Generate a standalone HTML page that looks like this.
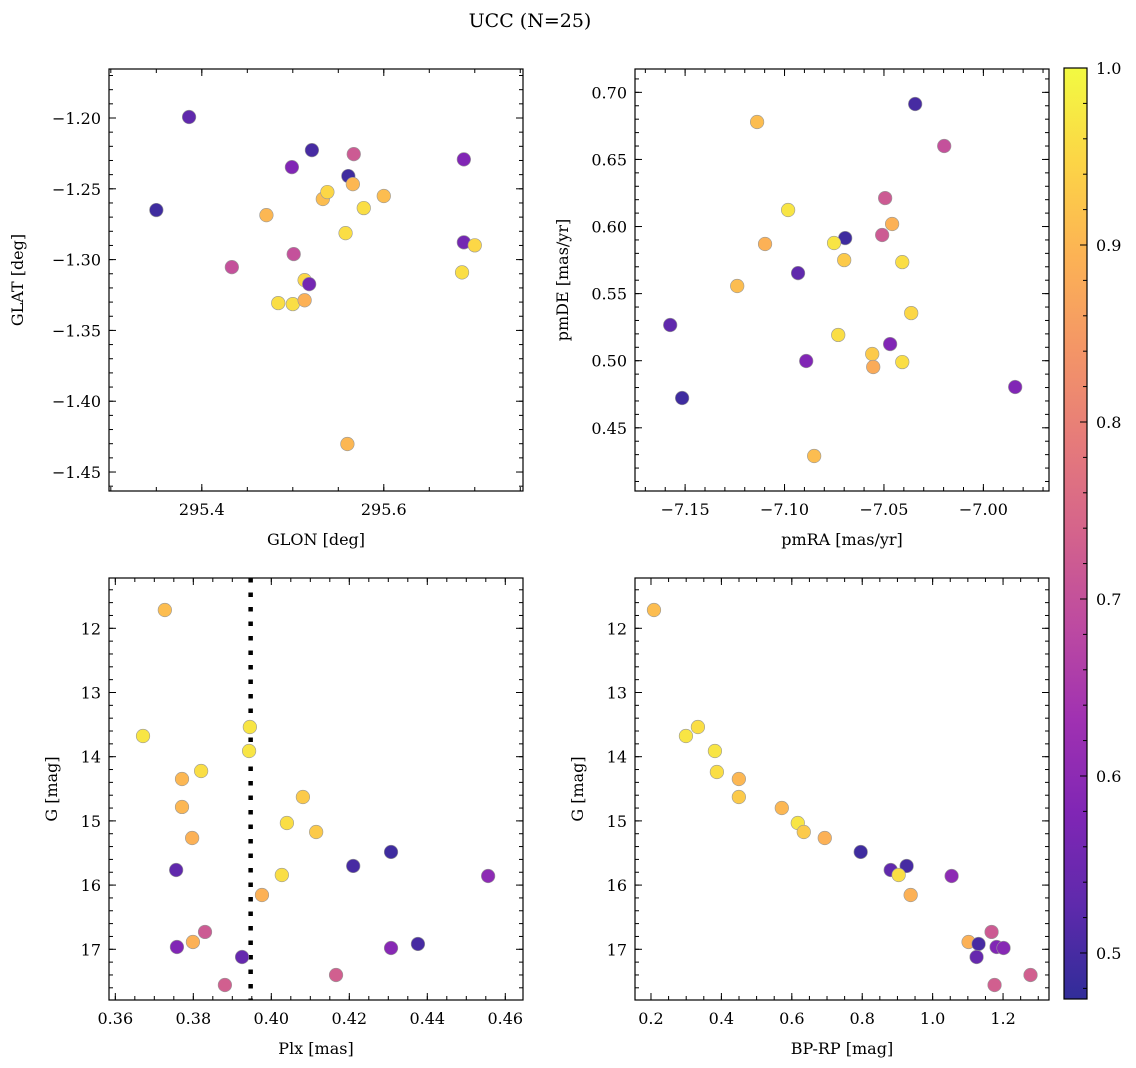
<!DOCTYPE html>
<html><head><meta charset="utf-8">
<style>
html,body{margin:0;padding:0;background:#fff;}
svg{display:block;font-family:"DejaVu Serif","Liberation Serif",serif;}
</style></head>
<body>
<svg id="fig" width="1136" height="1068" viewBox="0 0 1136 1068" xmlns="http://www.w3.org/2000/svg">
<text x="530" y="27" font-size="19" text-anchor="middle">UCC (N=25)</text>
</svg>
<script>
// ---- data ----
const tlGlon = [295.386,295.350,295.433,295.471,295.499,295.521,295.501,295.484,295.500,295.513,295.518,295.513,295.533,295.538,295.561,295.567,295.566,295.558,295.578,295.600,295.560,295.688,295.688,295.700,295.686];
const tlGlat = [-1.1993,-1.2650,-1.3053,-1.2686,-1.2347,-1.2227,-1.2961,-1.3307,-1.3314,-1.3145,-1.3173,-1.3287,-1.2572,-1.2523,-1.2410,-1.2255,-1.2467,-1.2813,-1.2636,-1.2551,-1.4302,-1.2292,-1.2878,-1.2899,-1.3090];
const tlProb = [0.53,0.49,0.70,0.90,0.58,0.50,0.70,0.96,0.96,0.95,0.56,0.89,0.91,0.95,0.49,0.72,0.90,0.96,0.96,0.91,0.90,0.58,0.56,0.95,0.96];

const trPmra = [-7.0343,-7.0197,-7.1138,-7.0494,-7.0459,-7.0509,-7.0982,-7.1098,-7.0695,-7.0751,-7.0700,-7.0408,-7.0932,-7.1238,-7.0363,-7.1575,-7.1515,-7.0891,-7.0730,-7.0469,-7.0559,-7.0554,-7.0408,-6.9840,-7.0851];
const trPmde = [0.6913,0.6600,0.6779,0.6212,0.6019,0.5937,0.6123,0.5870,0.5914,0.5877,0.5750,0.5735,0.5653,0.5557,0.5355,0.5266,0.4722,0.4998,0.5192,0.5124,0.5050,0.4953,0.4990,0.4804,0.4290];
const trProb = [0.50,0.70,0.91,0.72,0.89,0.72,0.97,0.89,0.49,0.97,0.93,0.96,0.53,0.91,0.95,0.53,0.49,0.58,0.96,0.58,0.93,0.88,0.96,0.58,0.91];

const blPlx = [0.3727,0.3671,0.3945,0.3943,0.3771,0.3820,0.3771,0.3797,0.4081,0.4040,0.4115,0.3756,0.4027,0.3976,0.4210,0.4307,0.4556,0.3830,0.3799,0.3758,0.3925,0.3881,0.4166,0.4307,0.4376];
const blG = [11.715,13.678,13.537,13.911,14.347,14.223,14.783,15.266,14.628,15.033,15.173,15.765,15.843,16.154,15.702,15.484,15.858,16.730,16.886,16.964,17.120,17.556,17.400,16.980,16.917];
const blProb = [0.91,0.97,0.97,0.97,0.90,0.96,0.90,0.89,0.93,0.96,0.93,0.53,0.96,0.89,0.50,0.49,0.60,0.72,0.89,0.58,0.54,0.73,0.73,0.59,0.50];

const brBprp = [0.2085,0.2993,0.3333,0.3816,0.3872,0.4496,0.4496,0.5716,0.6170,0.6340,0.6936,0.7957,0.8809,0.9262,0.9035,1.0539,0.9376,1.1674,1.1021,1.1305,1.1816,1.2014,1.1248,1.1759,1.2780];
const brG = [11.715,13.678,13.537,13.911,14.238,14.347,14.628,14.799,15.033,15.173,15.266,15.484,15.765,15.702,15.843,15.858,16.154,16.730,16.886,16.917,16.964,16.980,17.120,17.556,17.400];
const brProb = [0.91,0.97,0.96,0.97,0.96,0.90,0.93,0.90,0.97,0.93,0.89,0.49,0.53,0.50,0.96,0.60,0.89,0.72,0.89,0.50,0.58,0.59,0.54,0.73,0.73];

const plxLine = 0.3947;
const probMin = 0.474, probMax = 1.0;
const cbTicks = [0.5,0.6,0.7,0.8,0.9,1.0];

// ---- helpers ----
const NS = "http://www.w3.org/2000/svg";
const svg = document.getElementById('fig');
function mk(tag, attrs, parent){ const e=document.createElementNS(NS,tag); for(const k in attrs) e.setAttribute(k,attrs[k]); (parent||svg).appendChild(e); return e; }
const stops=[[13,8,135],[65,4,157],[106,0,168],[143,13,164],[177,42,144],[204,71,120],[225,100,98],[242,132,75],[252,166,54],[252,206,37],[240,249,33]];
function plasma(t){ t=Math.max(0,Math.min(1,t)); const f=t*10, i=Math.min(9,Math.floor(f)), r=f-i; const a=stops[i], b=stops[i+1]; return a.map((v,k)=>v+(b[k]-v)*r); }
function colorOf(p, alpha){ const c=plasma((p-probMin)/(probMax-probMin)); const al=alpha; return 'rgb('+c.map(v=>Math.round(v*al+255*(1-al))).join(',')+')'; }
function fmt(v,d){ let s=v.toFixed(d); if(v<0) s='\u2212'+s.slice(1); return s; }

function panel(o){
  const {name,x0,y0,w,h,xmin,xmax,ymin,ymax,invY,xMaj,xMin,yMaj,yMin,xd,yd,xlabel,ylabel,ylabX,xs,ys,ps} = o;
  const sx=v=>x0+(v-xmin)/(xmax-xmin)*w;
  const sy=v=>invY? y0+(v-ymin)/(ymax-ymin)*h : y0+h-(v-ymin)/(ymax-ymin)*h;
  const g=mk('g',{});  
  const eps=1e-9;
  function ticks(step,len,isMaj,axis){
    const lo=axis==='x'?xmin:ymin, hi=axis==='x'?xmax:ymax;
    for(let k=Math.ceil(lo/step-eps);k*step<=hi+eps;k++){
      const v=k*step;
      if(axis==='x'){ const X=sx(v);
        mk('line',{x1:X,x2:X,y1:y0+h,y2:y0+h-len,stroke:'#000','stroke-width':1},g);
        mk('line',{x1:X,x2:X,y1:y0,y2:y0+len,stroke:'#000','stroke-width':1},g);
        if(isMaj){ const t=mk('text',{x:X,y:y0+h+24,'font-size':16,'text-anchor':'middle'},g); t.textContent=fmt(v,xd);   }
      } else { const Y=sy(v);
        mk('line',{x1:x0,x2:x0+len,y1:Y,y2:Y,stroke:'#000','stroke-width':1},g);
        mk('line',{x1:x0+w,x2:x0+w-len,y1:Y,y2:Y,stroke:'#000','stroke-width':1},g);
        if(isMaj){ const t=mk('text',{x:x0-8,y:Y+6,'font-size':16,'text-anchor':'end'},g); t.textContent=fmt(v,yd);   }
      }
    }
  }
  ticks(xMin,4,false,'x'); ticks(xMaj,7,true,'x'); ticks(yMin,4,false,'y'); ticks(yMaj,7,true,'y');
  if(o.vline!==undefined){ const l=mk('line',{x1:sx(o.vline),x2:sx(o.vline),y1:y0,y2:y0+h,stroke:'#000','stroke-width':4.5,'stroke-dasharray':'4.5 10'},g);   }
  for(let i=0;i<xs.length;i++){
    const c=mk('circle',{cx:sx(xs[i]),cy:sy(ys[i]),r:6.8,fill:colorOf(ps[i],0.85),stroke:'#999','stroke-width':0.6},g);
    
    
  }
  mk('rect',{x:x0,y:y0,width:w,height:h,fill:'none',stroke:'#000','stroke-width':1.2},g);
  const xl=mk('text',{x:x0+w/2,y:y0+h+54,'font-size':16,'text-anchor':'middle'},g); xl.textContent=xlabel;
   
  const yl=mk('text',{x:ylabX,y:y0+h/2,'font-size':16,'text-anchor':'middle',transform:'rotate(-90 '+ylabX+' '+(y0+h/2)+')'},g); yl.textContent=ylabel;
   
}

panel({name:'glon-glat',x0:109,y0:69,w:414,h:422,xmin:295.298,xmax:295.753,ymin:-1.4634,ymax:-1.1654,xMaj:0.2,xMin:0.05,yMaj:0.05,yMin:0.01,xd:1,yd:2,xlabel:'GLON [deg]',ylabel:'GLAT [deg]',ylabX:23,xs:tlGlon,ys:tlGlat,ps:tlProb});
panel({name:'pm',x0:635,y0:69,w:414,h:422,xmin:-7.1752,xmax:-6.967,ymin:0.4029,ymax:0.7174,xMaj:0.05,xMin:0.01,yMaj:0.05,yMin:0.01,xd:2,yd:2,xlabel:'pmRA [mas/yr]',ylabel:'pmDE [mas/yr]',ylabX:568,xs:trPmra,ys:trPmde,ps:trProb});
panel({name:'plx-g',x0:109,y0:578,w:414,h:422,xmin:0.35838,xmax:0.46454,ymin:11.2165,ymax:17.79,invY:true,xMaj:0.02,xMin:0.005,yMaj:1,yMin:0.2,xd:2,yd:0,xlabel:'Plx [mas]',ylabel:'G [mag]',ylabX:57,xs:blPlx,ys:blG,ps:blProb,vline:plxLine});
panel({name:'cmd',x0:635,y0:578,w:414,h:422,xmin:0.1546,xmax:1.3305,ymin:11.2165,ymax:17.79,invY:true,xMaj:0.2,xMin:0.05,yMaj:1,yMin:0.2,xd:1,yd:0,xlabel:'BP-RP [mag]',ylabel:'G [mag]',ylabX:583,xs:brBprp,ys:brG,ps:brProb});

// colorbar
(function(){
  const cx=1064,cy=68,cw=23,ch=931;
  const g=mk('g',{});  
  const grad=mk('linearGradient',{id:'cbg',x1:0,y1:1,x2:0,y2:0},mk('defs',{},g));
  for(let i=0;i<=20;i++){ const t=i/20; mk('stop',{offset:t,'stop-color':colorOf(probMin+t*(probMax-probMin),0.85)},grad); }
  mk('rect',{x:cx,y:cy,width:cw,height:ch,fill:'url(#cbg)'},g);
  const sy=v=>cy+ch-(v-probMin)/(probMax-probMin)*ch;
  for(let v=0.48;v<=1.0001;v+=0.02){ const Y=sy(v); mk('line',{x1:cx+cw,x2:cx+cw-4,y1:Y,y2:Y,stroke:'#000','stroke-width':1},g); }
  cbTicks.forEach(v=>{ const Y=sy(v); mk('line',{x1:cx+cw,x2:cx+cw-7,y1:Y,y2:Y,stroke:'#000','stroke-width':1},g);
    const t=mk('text',{x:cx+cw+9,y:Y+6,'font-size':16},g); t.textContent=v.toFixed(1);
      });
  mk('rect',{x:cx,y:cy,width:cw,height:ch,fill:'none',stroke:'#000','stroke-width':1.2},g);
})();
</script>
</body></html>
